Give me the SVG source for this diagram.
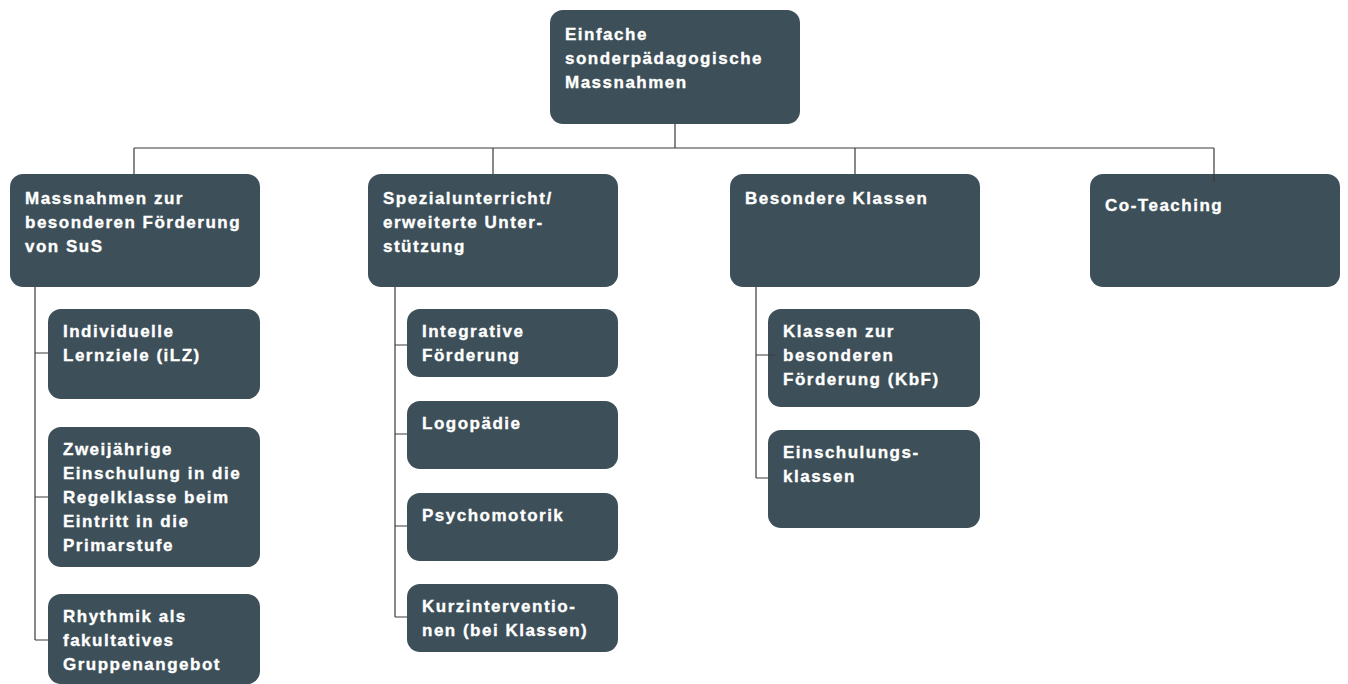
<svg xmlns="http://www.w3.org/2000/svg" width="1348" height="684" viewBox="0 0 1348 684">
<style>
.box{fill:#3d4f58}
.t{font-family:"Liberation Sans",Arial,Helvetica,sans-serif;font-weight:bold;font-size:17px;letter-spacing:1.5px;fill:#ffffff;stroke:#ffffff;stroke-width:0.35}
.c{fill:none;stroke:#3a3a3a;stroke-width:1.2}
</style>
<rect width="1348" height="684" fill="#ffffff"/>
<g id="n-root"><rect class="box" x="550" y="10" width="250" height="114" rx="13"/><text class="t" x="565" y="40"><tspan x="565">Einfache</tspan><tspan x="565" dy="24">sonderpädagogische</tspan><tspan x="565" dy="24">Massnahmen</tspan></text></g>
<g id="n-mass"><rect class="box" x="10" y="174" width="250" height="113" rx="13"/><text class="t" x="25" y="204"><tspan x="25">Massnahmen zur</tspan><tspan x="25" dy="24">besonderen Förderung</tspan><tspan x="25" dy="24">von SuS</tspan></text></g>
<g id="n-spez"><rect class="box" x="368" y="174" width="250" height="113" rx="13"/><text class="t" x="383" y="204"><tspan x="383">Spezialunterricht/</tspan><tspan x="383" dy="24">erweiterte Unter-</tspan><tspan x="383" dy="24">stützung</tspan></text></g>
<g id="n-bes"><rect class="box" x="730" y="174" width="250" height="113" rx="13"/><text class="t" x="745" y="204">Besondere Klassen</text></g>
<g id="n-co"><rect class="box" x="1090" y="174" width="250" height="113" rx="13"/><text class="t" x="1105" y="211">Co-Teaching</text></g>
<g id="n-ilz"><rect class="box" x="48" y="309" width="212" height="90" rx="13"/><text class="t" x="63" y="337"><tspan x="63">Individuelle</tspan><tspan x="63" dy="24">Lernziele (iLZ)</tspan></text></g>
<g id="n-zwei"><rect class="box" x="48" y="427" width="212" height="140" rx="13"/><text class="t" x="63" y="455"><tspan x="63">Zweijährige</tspan><tspan x="63" dy="24">Einschulung in die</tspan><tspan x="63" dy="24">Regelklasse beim</tspan><tspan x="63" dy="24">Eintritt in die</tspan><tspan x="63" dy="24">Primarstufe</tspan></text></g>
<g id="n-rhy"><rect class="box" x="48" y="594" width="212" height="90" rx="13"/><text class="t" x="63" y="622"><tspan x="63">Rhythmik als</tspan><tspan x="63" dy="24">fakultatives</tspan><tspan x="63" dy="24">Gruppenangebot</tspan></text></g>
<g id="n-int"><rect class="box" x="407" y="309" width="211" height="68" rx="13"/><text class="t" x="422" y="337"><tspan x="422">Integrative</tspan><tspan x="422" dy="24">Förderung</tspan></text></g>
<g id="n-logo"><rect class="box" x="407" y="401" width="211" height="68" rx="13"/><text class="t" x="422" y="429">Logopädie</text></g>
<g id="n-psy"><rect class="box" x="407" y="493" width="211" height="68" rx="13"/><text class="t" x="422" y="521">Psychomotorik</text></g>
<g id="n-kurz"><rect class="box" x="407" y="584" width="211" height="68" rx="13"/><text class="t" x="422" y="612"><tspan x="422">Kurzinterventio-</tspan><tspan x="422" dy="24">nen (bei Klassen)</tspan></text></g>
<g id="n-kbf"><rect class="box" x="768" y="309" width="212" height="98" rx="13"/><text class="t" x="783" y="337"><tspan x="783">Klassen zur</tspan><tspan x="783" dy="24">besonderen</tspan><tspan x="783" dy="24">Förderung (KbF)</tspan></text></g>
<g id="n-ein"><rect class="box" x="768" y="430" width="212" height="98" rx="13"/><text class="t" x="783" y="458"><tspan x="783">Einschulungs-</tspan><tspan x="783" dy="24">klassen</tspan></text></g>
<g id="connectors">
<path class="c" d="M675 124V148M134 148H1214M134 148V174M493 148V174M855 148V174M1214 148V182"/>
<path class="c" d="M35 287V640M35 353H48M35 497H48M35 640H48"/>
<path class="c" d="M395 287V617M395 345H407M395 434H407M395 526H407M395 617H407"/>
<path class="c" d="M756 287V478M756 355H775M756 478H768"/>
</g>
</svg>
